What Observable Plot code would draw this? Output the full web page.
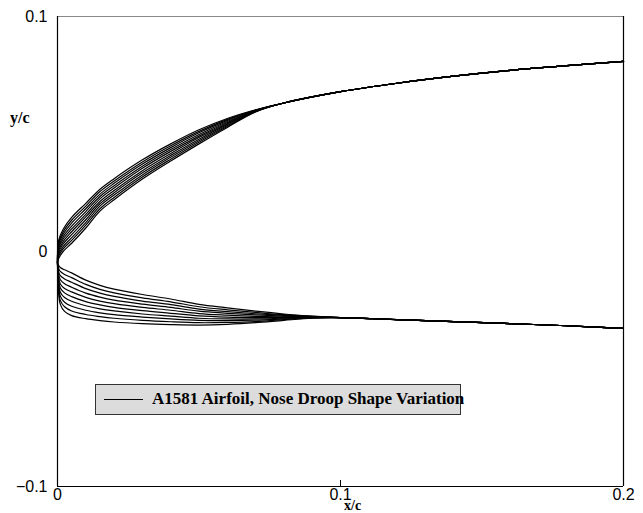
<!DOCTYPE html>
<html>
<head>
<meta charset="utf-8">
<script src="https://cdn.jsdelivr.net/npm/d3@7"></script>
<script src="https://cdn.jsdelivr.net/npm/@observablehq/plot@0.6"></script>
<style>
  body { margin: 0; background: #fff; }
  #wrap { position: relative; width: 643px; height: 513px; }
  .lab { position: absolute; font-family: "Liberation Serif", "DejaVu Serif", serif; font-weight: bold; font-size: 16px; line-height: 1; color: #000; white-space: nowrap; }
  #legend { position: absolute; left: 95px; top: 384px; width: 366px; height: 31px; background: #dcdcdc; border: 1px solid #333; box-sizing: border-box; }
  #legend .sw { position: absolute; left: 8px; top: 14px; width: 39px; height: 0; border-top: 1.3px solid #000; }
  #legend .tx { position: absolute; left: 56px; top: 5px; line-height: 1; font-family: "Liberation Serif", serif; font-weight: bold; font-size: 17px; white-space: nowrap; }
  svg text { font-family: "Liberation Sans", Arial, sans-serif; }
</style>
</head>
<body>
<div id="wrap"></div>
<script>
// ---- data ----
const xTicks = [0, 0.1, 0.2];
const yTicks = [-0.1, 0, 0.1];
const legendLabel = "A1581 Airfoil, Nose Droop Shape Variation";

// upper surface, nose region (10 droop variants)
const upperNoseX = [0, 0.0004, 0.002, 0.005, 0.01, 0.015, 0.02, 0.03, 0.04, 0.05, 0.06, 0.07];
const upperNoseY = [
  [-0.0047, 0.0047, 0.0095, 0.0145, 0.0205, 0.0265, 0.0310, 0.0390, 0.0458, 0.0518, 0.0566, 0.0603],
  [-0.0047, 0.0038, 0.0084, 0.0133, 0.0193, 0.0255, 0.0300, 0.0381, 0.0450, 0.0511, 0.0562, 0.0602],
  [-0.0047, 0.0030, 0.0074, 0.0121, 0.0182, 0.0244, 0.0290, 0.0372, 0.0442, 0.0505, 0.0558, 0.0601],
  [-0.0047, 0.0021, 0.0063, 0.0108, 0.0170, 0.0234, 0.0280, 0.0363, 0.0434, 0.0498, 0.0553, 0.0600],
  [-0.0047, 0.0013, 0.0053, 0.0096, 0.0158, 0.0224, 0.0270, 0.0354, 0.0426, 0.0491, 0.0549, 0.0599],
  [-0.0047, 0.0004, 0.0042, 0.0084, 0.0147, 0.0213, 0.0260, 0.0344, 0.0417, 0.0485, 0.0545, 0.0598],
  [-0.0047, -0.0004, 0.0032, 0.0072, 0.0135, 0.0203, 0.0250, 0.0335, 0.0409, 0.0478, 0.0541, 0.0597],
  [-0.0047, -0.0013, 0.0021, 0.0059, 0.0123, 0.0193, 0.0240, 0.0326, 0.0401, 0.0471, 0.0536, 0.0596],
  [-0.0047, -0.0021, 0.0011, 0.0047, 0.0112, 0.0182, 0.0230, 0.0317, 0.0393, 0.0465, 0.0532, 0.0595],
  [-0.0047, -0.0030, 0.0000, 0.0035, 0.0100, 0.0172, 0.0220, 0.0308, 0.0385, 0.0458, 0.0528, 0.0594]
];
// upper surface, common aft part
const upperTailX = [0.08, 0.1, 0.12, 0.14, 0.16, 0.18, 0.2];
const upperTailY = [0.0632, 0.0680, 0.0716, 0.0746, 0.0771, 0.0791, 0.0809];

// lower surface, nose region (10 droop variants)
const lowerNoseX = [0, 0.0003, 0.001, 0.0025, 0.005, 0.01, 0.015, 0.02, 0.03, 0.04, 0.05, 0.06, 0.07, 0.08, 0.09];
const lowerNoseY = [
  [-0.0047, -0.0058, -0.0068, -0.0078, -0.0091, -0.0122, -0.0144, -0.0160, -0.0183, -0.0202, -0.0225, -0.0240, -0.0254, -0.0266, -0.0275],
  [-0.0047, -0.0069, -0.0085, -0.0098, -0.0111, -0.0140, -0.0161, -0.0176, -0.0197, -0.0214, -0.0235, -0.0248, -0.0259, -0.0269, -0.0276],
  [-0.0047, -0.0081, -0.0103, -0.0117, -0.0131, -0.0158, -0.0177, -0.0191, -0.0211, -0.0226, -0.0245, -0.0256, -0.0265, -0.0272, -0.0277],
  [-0.0047, -0.0092, -0.0120, -0.0137, -0.0152, -0.0177, -0.0194, -0.0207, -0.0224, -0.0238, -0.0254, -0.0263, -0.0270, -0.0275, -0.0278],
  [-0.0047, -0.0103, -0.0138, -0.0157, -0.0172, -0.0195, -0.0211, -0.0222, -0.0238, -0.0250, -0.0264, -0.0271, -0.0276, -0.0278, -0.0279],
  [-0.0047, -0.0115, -0.0155, -0.0176, -0.0192, -0.0213, -0.0227, -0.0238, -0.0252, -0.0263, -0.0274, -0.0279, -0.0281, -0.0281, -0.0280],
  [-0.0047, -0.0126, -0.0173, -0.0196, -0.0212, -0.0231, -0.0244, -0.0253, -0.0266, -0.0275, -0.0284, -0.0287, -0.0287, -0.0284, -0.0281],
  [-0.0047, -0.0137, -0.0190, -0.0216, -0.0233, -0.0250, -0.0261, -0.0269, -0.0279, -0.0287, -0.0293, -0.0294, -0.0292, -0.0287, -0.0282],
  [-0.0047, -0.0149, -0.0208, -0.0235, -0.0253, -0.0268, -0.0277, -0.0284, -0.0293, -0.0299, -0.0303, -0.0302, -0.0298, -0.0290, -0.0283],
  [-0.0047, -0.0160, -0.0225, -0.0255, -0.0273, -0.0286, -0.0294, -0.0300, -0.0307, -0.0311, -0.0313, -0.0310, -0.0303, -0.0293, -0.0284]
];
// lower surface, common aft part
const lowerTailX = [0.1, 0.12, 0.14, 0.16, 0.18, 0.2];
const lowerTailY = [-0.0281, -0.0290, -0.0298, -0.0307, -0.0316, -0.0327];

// ---- build rows ----
const rows = [];
upperNoseY.forEach((ys, i) => {
  ys.forEach((y, j) => rows.push({x: upperNoseX[j], y, z: "u" + i}));
  upperTailX.forEach((x, j) => rows.push({x, y: upperTailY[j], z: "u" + i}));
});
lowerNoseY.forEach((ys, i) => {
  ys.forEach((y, j) => rows.push({x: lowerNoseX[j], y, z: "l" + i}));
  lowerTailX.forEach((x, j) => rows.push({x, y: lowerTailY[j], z: "l" + i}));
});

const xDom = [xTicks[0], xTicks[xTicks.length - 1]];
const yDom = [yTicks[0], yTicks[yTicks.length - 1]];
const fmt = d3.format("~g");

const chart = Plot.plot({
  width: 643,
  height: 513,
  marginLeft: 57,
  marginRight: 20,
  marginTop: 16,
  marginBottom: 27,
  style: {fontSize: "16px", fontFamily: "Liberation Sans, Arial, sans-serif", color: "#000", background: "#fff"},
  x: {domain: xDom},
  y: {domain: yDom},
  marks: [
    Plot.line(rows, {x: "x", y: "y", z: "z", stroke: "#000", strokeWidth: 1.2, curve: "catmull-rom"}),
    Plot.ruleY([yDom[1]], {stroke: "#888", strokeWidth: 1.2}),
    Plot.ruleY([yDom[0]], {stroke: "#000", strokeWidth: 1.2}),
    Plot.ruleX([xDom[0]], {stroke: "#000", strokeWidth: 1.2}),
    Plot.ruleX([xDom[1]], {stroke: "#000", strokeWidth: 1.2}),
    Plot.axisX(xTicks, {tickSize: 0, tickPadding: 2, tickFormat: fmt, label: null, fill: "#000"}),
    Plot.axisX([0.1], {tickSize: -6, tickFormat: () => "", label: null, stroke: "#000"}),
    Plot.axisY(yTicks, {tickSize: 0, tickPadding: 10, tickFormat: fmt, label: null, fill: "#000"})
  ]
});

const wrap = document.getElementById("wrap");
wrap.appendChild(chart);

const yl = document.createElement("div");
yl.className = "lab"; yl.textContent = "y/c";
yl.style.left = "10px"; yl.style.top = "110px";
wrap.appendChild(yl);

const xl = document.createElement("div");
xl.className = "lab"; xl.textContent = "x/c";
xl.style.left = "344px"; xl.style.top = "499px";
xl.style.fontSize = "14px";
wrap.appendChild(xl);

const lg = document.createElement("div");
lg.id = "legend";
lg.innerHTML = '<div class="sw"></div><div class="tx"></div>';
lg.querySelector(".tx").textContent = legendLabel;
wrap.appendChild(lg);
</script>
</body>
</html>
